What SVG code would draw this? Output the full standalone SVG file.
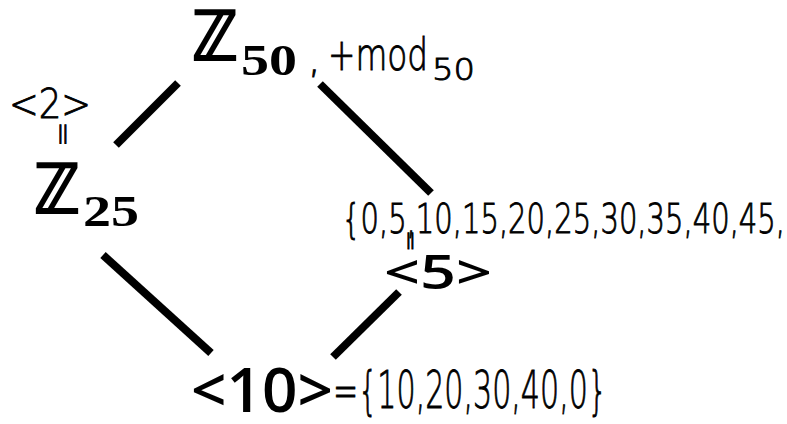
<svg xmlns="http://www.w3.org/2000/svg" width="787" height="424" viewBox="0 0 787 424">
<style>
.zz{font-family:"DejaVu Sans",sans-serif;font-weight:bold;fill:#000;stroke:#000;stroke-width:2}
.sub{font-family:"Liberation Serif","DejaVu Serif",serif;font-weight:bold;fill:#000}
.gen{font-family:"Open Sans","Noto Sans",sans-serif;font-weight:600;fill:#000}
.hw{font-family:"DejaVu Sans ExtraLight","DejaVu Sans","Liberation Sans",sans-serif;font-weight:200;fill:#000;stroke:#000;stroke-width:0.9}
.edge{stroke:#000;stroke-width:8;stroke-linecap:butt;fill:none}
</style>
<rect width="787" height="424" fill="#fff"/>
<g id="connectors">
<line class="edge" x1="178" y1="83" x2="116" y2="145"/>
<line class="edge" x1="320" y1="84" x2="431" y2="193"/>
<line class="edge" x1="103" y1="255" x2="211" y2="353"/>
<line class="edge" x1="399" y1="292" x2="333" y2="357"/>
</g>
<g id="z50">
<text class="zz" x="192" y="60" font-size="68" textLength="46" lengthAdjust="spacingAndGlyphs">ℤ</text>
<text class="sub" x="241" y="75" font-size="45" textLength="56" lengthAdjust="spacingAndGlyphs">50</text>
<text class="hw" x="308" y="72" font-size="40">,</text>
<text class="hw" x="328" y="70" font-size="44" textLength="100" lengthAdjust="spacingAndGlyphs">+mod</text>
<text class="hw" x="432" y="80" font-size="30" textLength="43" lengthAdjust="spacingAndGlyphs">50</text>
</g>
<g id="z25">
<text class="hw" x="9" y="118" font-size="40" textLength="82" lengthAdjust="spacingAndGlyphs">&lt;2&gt;</text>
<text class="hw" x="63" y="134" font-size="30" transform="rotate(90 63 134)" text-anchor="middle" dominant-baseline="central">=</text>
<text class="zz" x="34" y="213" font-size="68" textLength="46" lengthAdjust="spacingAndGlyphs">ℤ</text>
<text class="sub" x="83" y="226" font-size="45" textLength="56" lengthAdjust="spacingAndGlyphs">25</text>
</g>
<g id="g5">
<text class="hw" x="342" y="233" font-size="40" textLength="443" lengthAdjust="spacingAndGlyphs">{0,5,10,15,20,25,30,35,40,45,</text>
<text class="hw" x="411" y="241" font-size="26" transform="rotate(90 411 241)" text-anchor="middle" dominant-baseline="central">=</text>
<text class="gen" x="384" y="289" font-size="47" textLength="108" lengthAdjust="spacingAndGlyphs">&lt;5&gt;</text>
</g>
<g id="g10">
<text class="gen" x="191" y="412" font-size="62" textLength="142" lengthAdjust="spacingAndGlyphs">&lt;10&gt;</text>
<text class="hw" x="333" y="408" font-size="52" textLength="274" lengthAdjust="spacingAndGlyphs">={10,20,30,40,0}</text>
</g>
</svg>
